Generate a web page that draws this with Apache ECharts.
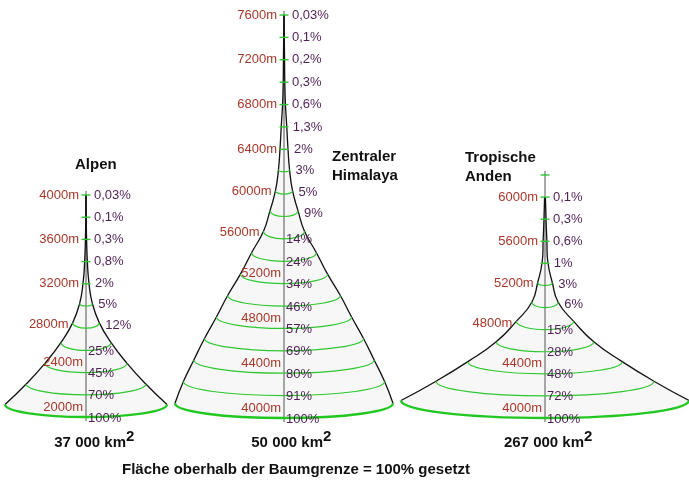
<!DOCTYPE html>
<html>
<head>
<meta charset="utf-8">
<script src="https://cdn.jsdelivr.net/npm/echarts/dist/echarts.min.js"></script>
<style>
html,body{margin:0;padding:0;background:#fff;}
#chart{width:689px;height:484px;}
</style>
</head>
<body>
<div id="chart"></div>
<script>
// ---- Data ----
const alpenElev = [4000,3800,3600,3400,3200,3000,2800,2600,2400,2200,2000];
const alpenPct  = [0.03,0.1,0.3,0.8,2,5,12,25,45,70,100];

const himalayaElev = [7600,7400,7200,7000,6800,6600,6400,6200,6000,5800,5600,5400,5200,5000,4800,4600,4400,4200,4000];
const himalayaPct  = [0.03,0.1,0.2,0.3,0.6,1.3,2,3,5,9,14,24,34,46,57,69,80,91,100];

const andenElev = [6200,6000,5800,5600,5400,5200,5000,4800,4600,4400,4200,4000];
const andenPct  = [null,0.1,0.3,0.6,1,3,6,15,28,48,72,100];

const titles = [["Alpen"], ["Zentraler","Himalaya"], ["Tropische","Anden"]];
const areaLabels = ["37 000 km", "50 000 km", "267 000 km"];
const footerText = "Fläche oberhalb der Baumgrenze = 100% gesetzt";

// ---- Styling ----
const FONT = '"Liberation Sans", Arial, Helvetica, sans-serif';
const ELEV_COLOR = '#a8382a';
const PCT_COLOR = '#4e1f55';
const GREEN = '#2fc72f';
const WIDTH_EXP = 0.85; // visual width mapping of area share

function widthVal(p){ return Math.pow(p/100, WIDTH_EXP); }
function sag(hw){ return Math.min(0.4*hw, 6 + 0.08*hw); }
function fmtPct(p){ return String(p).replace('.', ',') + '%'; }

const mountains = [
  {elev: alpenElev, pct: alpenPct, grid: {left: 5, top: 195, width: 162, height: 222}, min: 2000, max: 4000},
  {elev: himalayaElev, pct: himalayaPct, grid: {left: 175, top: 15, width: 218, height: 403}, min: 4000, max: 7600},
  {elev: andenElev, pct: andenPct, grid: {left: 401, top: 175, width: 292, height: 243}, min: 4000, max: 6200}
];

function shapeRenderer(m){
  return function(params, api){
    const left = [], right = [];
    let topY = null, bottom = null;
    for (let i = 0; i < m.elev.length; i++){
      const c0 = api.coord([0, m.elev[i]]);
      if (topY === null) topY = c0[1];
      const p = m.pct[i];
      if (p == null) continue;
      const c = api.coord([widthVal(p), m.elev[i]]);
      const hw = c[0] - c0[0];
      const b = sag(hw);
      left.push([c0[0] - hw, c0[1] - b]);
      right.push([c0[0] + hw, c0[1] - b]);
      bottom = {cx: c0[0], L: c0[1], hw: hw, b: b};
    }
    const poly = left.slice();
    for (let k = 1; k < 40; k++){
      const t = Math.PI * k / 40;
      poly.push([bottom.cx - bottom.hw*Math.cos(t), (bottom.L - bottom.b) + bottom.b*Math.sin(t)]);
    }
    for (let i = right.length - 1; i >= 0; i--) poly.push(right[i]);
    return {
      type: 'group',
      children: [
        {type: 'polygon', shape: {points: poly, smooth: 0}, style: {fill: '#f7f7f7', stroke: null}},
        {type: 'line', shape: {x1: bottom.cx, y1: topY - 4, x2: bottom.cx, y2: bottom.L + 4}, style: {stroke: '#555', lineWidth: 1}},
        {type: 'polyline', shape: {points: left, smooth: 0.5}, style: {stroke: '#111', lineWidth: 1.3, fill: null}},
        {type: 'polyline', shape: {points: right, smooth: 0.5}, style: {stroke: '#111', lineWidth: 1.3, fill: null}}
      ]
    };
  };
}

function levelRenderer(m){
  return function(params, api){
    const i = params.dataIndex;
    const elev = m.elev[i];
    const p = m.pct[i];
    const c0 = api.coord([0, elev]);
    const cx = c0[0], L = c0[1];
    let hw = 0;
    if (p != null) hw = api.coord([widthVal(p), elev])[0] - cx;
    const b = sag(hw);
    const isBottom = (i === m.elev.length - 1);
    const children = [];
    if (p == null || hw < 4.5){
      children.push({type: 'line', shape: {x1: cx - 4.5, y1: L, x2: cx + 4.5, y2: L}, style: {stroke: GREEN, lineWidth: 1.4}});
    } else {
      const k = 0.5523;
      const st = {stroke: isBottom ? '#22c822' : GREEN, lineWidth: isBottom ? 2.4 : 1.2, fill: null};
      children.push({type: 'bezierCurve', shape: {x1: cx - hw, y1: L - b, cpx1: cx - hw, cpy1: L - b + k*b, cpx2: cx - k*hw, cpy2: L, x2: cx, y2: L}, style: st});
      children.push({type: 'bezierCurve', shape: {x1: cx, y1: L, cpx1: cx + k*hw, cpy1: L, cpx2: cx + hw, cpy2: L - b + k*b, x2: cx + hw, y2: L - b}, style: st});
    }
    if (p != null){
      let px, py;
      if (p >= 13){ px = cx + 2; py = L + 1; }
      else { px = cx + Math.max(hw + 6, 8); py = L - (hw >= 4.5 ? b*0.5 : 0); }
      children.push({type: 'text', z2: 10, style: {text: fmtPct(p), x: px, y: py, fill: PCT_COLOR, font: '13px ' + FONT, align: 'left', verticalAlign: 'middle', textAlign: 'left', textVerticalAlign: 'middle'}});
    }
    if (elev % 400 === 0){
      let ex, ey;
      if (p != null && p >= 20){ ex = cx - 3; ey = L - 10; }
      else if (hw >= 6){ ex = cx - hw - 4; ey = L - 0.8*b; }
      else { ex = cx - 7; ey = L; }
      children.push({type: 'text', z2: 10, style: {text: elev + 'm', x: ex, y: ey, fill: ELEV_COLOR, font: '13px ' + FONT, align: 'right', verticalAlign: 'middle', textAlign: 'right', textVerticalAlign: 'middle'}});
    }
    return {type: 'group', children: children};
  };
}

const grids = [], xAxes = [], yAxes = [], series = [];
mountains.forEach(function(m, idx){
  grids.push(Object.assign({containLabel: false}, m.grid));
  xAxes.push({type: 'value', gridIndex: idx, min: -1, max: 1, show: false});
  yAxes.push({type: 'value', gridIndex: idx, min: m.min, max: m.max, show: false});
  series.push({
    type: 'custom', xAxisIndex: idx, yAxisIndex: idx, z: 1, silent: true, clip: false,
    data: [[0, m.elev[0]]],
    renderItem: shapeRenderer(m)
  });
  series.push({
    type: 'custom', xAxisIndex: idx, yAxisIndex: idx, z: 2, silent: true, clip: false,
    data: m.elev.map(function(e, i){ return [m.pct[i] == null ? 0 : widthVal(m.pct[i]), e]; }),
    renderItem: levelRenderer(m)
  });
});

function boldText(txt, x, y, size, align){
  return {type: 'text', x: x, y: y, style: {text: txt, fill: '#111', font: 'bold ' + size + 'px ' + FONT, textAlign: align || 'left', textVerticalAlign: 'middle', align: align || 'left', verticalAlign: 'middle'}};
}

const graphics = [
  boldText(titles[0][0], 75, 165, 15),
  boldText(titles[1][0], 332, 157, 15),
  boldText(titles[1][1], 332, 176, 15),
  boldText(titles[2][0], 465, 158, 15),
  boldText(titles[2][1], 465, 177, 15),
  boldText(areaLabels[0], 126, 443, 15, 'right'),
  boldText('2', 126, 437, 15),
  boldText(areaLabels[1], 323, 443, 15, 'right'),
  boldText('2', 323, 437, 15),
  boldText(areaLabels[2], 584, 443, 15, 'right'),
  boldText('2', 584, 437, 15),
  boldText(footerText, 122, 470, 15)
];

const chart = echarts.init(document.getElementById('chart'), null, {renderer: 'canvas'});
chart.setOption({
  animation: false,
  backgroundColor: '#ffffff',
  grid: grids,
  xAxis: xAxes,
  yAxis: yAxes,
  series: series,
  graphic: graphics
});
</script>
</body>
</html>
